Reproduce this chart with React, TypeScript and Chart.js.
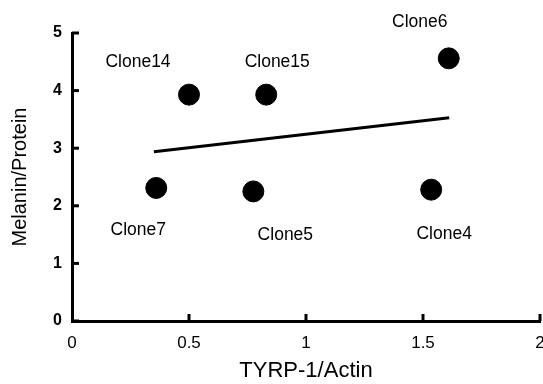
import React, { useEffect, useRef } from "react";
import { Chart, registerables } from "chart.js";

Chart.register(...registerables);

const cloneNames = ["Clone7", "Clone14", "Clone5", "Clone15", "Clone4", "Clone6"];
const tyrpActin = [0.36, 0.5, 0.775, 0.83, 1.535, 1.61];
const melaninProtein = [2.31, 3.93, 2.25, 3.93, 2.28, 4.56];
const trendX = [0.35, 1.612];
const trendY = [2.94, 3.53];
const xTicks = [0, 0.5, 1, 1.5, 2];
const yTicks = [0, 1, 2, 3, 4, 5];

const FONT = "'Liberation Sans', Arial, sans-serif";

// label offsets (style, pixels) relative to each point
const labelOffsets: Record<string, [number, number]> = {
  Clone7: [-18, 42],
  Clone14: [-51, -32],
  Clone5: [32, 44],
  Clone15: [11, -32],
  Clone4: [13, 44],
  Clone6: [-29, -36],
};

const pointLabelPlugin = {
  id: "pointLabels",
  afterDatasetsDraw(chart: any) {
    const meta = chart.getDatasetMeta(0);
    const ctx = chart.ctx;
    ctx.save();
    ctx.fillStyle = "#000";
    ctx.font = `17.5px ${FONT}`;
    ctx.textAlign = "center";
    ctx.textBaseline = "middle";
    meta.data.forEach((el: any, i: number) => {
      const name = cloneNames[i];
      const off = labelOffsets[name] || [0, 0];
      ctx.fillText(name, el.x + off[0], el.y + off[1]);
    });
    ctx.restore();
  },
};

const innerTicksPlugin = {
  id: "innerTicks",
  afterDraw(chart: any) {
    const ctx = chart.ctx;
    const xs = chart.scales.x;
    const ys = chart.scales.y;
    const area = chart.chartArea;
    ctx.save();
    ctx.strokeStyle = "#000";
    ctx.lineWidth = 3;
    ys.ticks.forEach((t: any) => {
      const py = ys.getPixelForValue(t.value);
      ctx.beginPath();
      ctx.moveTo(area.left, py);
      ctx.lineTo(area.left + 7, py);
      ctx.stroke();
    });
    xs.ticks.forEach((t: any) => {
      if (t.value === 0) return;
      const px = xs.getPixelForValue(t.value);
      ctx.beginPath();
      ctx.moveTo(px, area.bottom);
      ctx.lineTo(px, area.bottom - 7);
      ctx.stroke();
    });
    ctx.restore();
  },
};

export default function App() {
  const ref = useRef<HTMLCanvasElement>(null);
  useEffect(() => {
    if (!ref.current) return;
    const chart = new Chart(ref.current, {
      type: "scatter",
      data: {
        datasets: [
          {
            label: "Clones",
            data: tyrpActin.map((x, i) => ({ x, y: melaninProtein[i] })),
            backgroundColor: "#000",
            borderColor: "#000",
            pointRadius: 10.5,
            pointHoverRadius: 10.5,
          },
          {
            type: "line",
            label: "Trend",
            data: trendX.map((x, i) => ({ x, y: trendY[i] })),
            borderColor: "#000",
            borderWidth: 3,
            pointRadius: 0,
            fill: false,
          } as any,
        ],
      },
      options: {
        animation: false,
        responsive: false,
        maintainAspectRatio: false,
        layout: { autoPadding: false, padding: { top: 33, right: 3, left: 0, bottom: 0 } },
        plugins: {
          legend: { display: false },
          tooltip: { enabled: false },
        },
        scales: {
          x: {
            type: "linear",
            min: 0,
            max: 2,
            afterBuildTicks: (s: any) => {
              s.ticks = xTicks.map((v) => ({ value: v }));
            },
            afterFit: (s: any) => {
              s.height = 63;
              s.paddingLeft = 0;
              s.paddingRight = 0;
            },
            grid: { display: false, drawTicks: false },
            border: { display: true, color: "#000", width: 3 },
            ticks: {
              color: "#000",
              font: { family: FONT, size: 17 },
              padding: 12,
              maxRotation: 0,
              callback: (v: any) => String(v),
            },
            title: {
              display: true,
              text: "TYRP-1/Actin",
              color: "#000",
              font: { family: FONT, size: 22 },
              padding: { top: 0, bottom: 0 },
            },
          },
          y: {
            type: "linear",
            min: 0,
            max: 5,
            afterBuildTicks: (s: any) => {
              s.ticks = yTicks.map((v) => ({ value: v }));
            },
            afterFit: (s: any) => {
              s.width = 72;
              s.paddingTop = 0;
              s.paddingBottom = 0;
            },
            grid: { display: false, drawTicks: false },
            border: { display: true, color: "#000", width: 3 },
            ticks: {
              color: "#000",
              font: { family: FONT, size: 16, weight: "bold" },
              padding: 10,
              callback: (v: any) => String(v),
            },
            title: {
              display: true,
              text: "Melanin/Protein",
              color: "#000",
              font: { family: FONT, size: 20 },
              padding: { top: 8, bottom: 0 },
            },
          },
        },
      },
      plugins: [pointLabelPlugin, innerTicksPlugin],
    });
    return () => chart.destroy();
  }, []);
  return (
    <div style={{ position: "fixed", left: 0, top: 0, width: 543, height: 384, background: "#fff" }}>
      <canvas ref={ref} width={543} height={384} style={{ width: 543, height: 384 }} />
    </div>
  );
}
